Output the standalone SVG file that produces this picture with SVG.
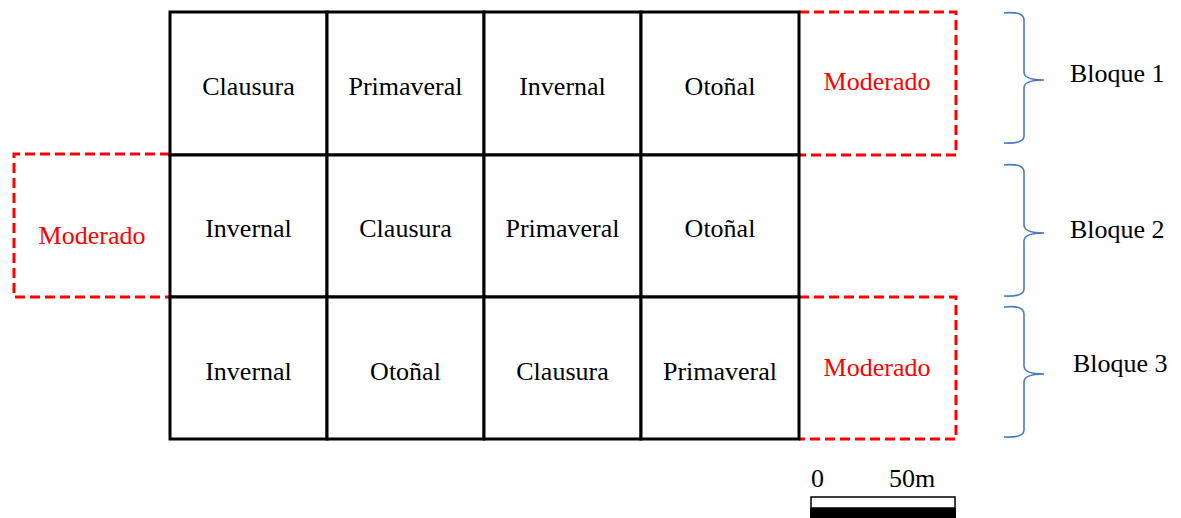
<svg xmlns="http://www.w3.org/2000/svg" width="1181" height="518" viewBox="0 0 1181 518">
<style>
.t{font-family:"Liberation Serif","Times New Roman",serif;font-size:26px;fill:#000;text-anchor:middle}
.r{font-family:"Liberation Serif","Times New Roman",serif;font-size:26px;fill:#ff0000;text-anchor:middle}
.b{font-family:"Liberation Serif","Times New Roman",serif;font-size:26px;fill:#000}
.cell{fill:#fff;stroke:#000;stroke-width:3}
.dash{fill:none;stroke:#ff0000;stroke-width:3;stroke-dasharray:10 5}
.brace{fill:none;stroke:#4a7cc4;stroke-width:1.6}
</style>
<rect width="1181" height="518" fill="#fff"/>
<g id="moderado-left"><path class="dash" d="M170,154 L14,154 L14,297 L170,297"/><text class="r" x="92" y="244">Moderado</text></g>
<g id="moderado-top"><path class="dash" d="M799,12 L956,12 L956,155 L799,155"/><text class="r" x="877" y="90">Moderado</text></g>
<g id="moderado-bottom"><path class="dash" d="M799,297 L956,297 L956,439 L799,439"/><text class="r" x="877" y="376">Moderado</text></g>
<g id="grid">
<g id="r1c1"><rect class="cell" x="170" y="12" width="157" height="143"/><text class="t" x="248.5" y="95">Clausura</text></g>
<g id="r1c2"><rect class="cell" x="327" y="12" width="157" height="143"/><text class="t" x="405.5" y="95">Primaveral</text></g>
<g id="r1c3"><rect class="cell" x="484" y="12" width="157" height="143"/><text class="t" x="562.5" y="95">Invernal</text></g>
<g id="r1c4"><rect class="cell" x="641" y="12" width="158" height="143"/><text class="t" x="720" y="95">Otoñal</text></g>
<g id="r2c1"><rect class="cell" x="170" y="155" width="157" height="142"/><text class="t" x="248.5" y="237">Invernal</text></g>
<g id="r2c2"><rect class="cell" x="327" y="155" width="157" height="142"/><text class="t" x="405.5" y="237">Clausura</text></g>
<g id="r2c3"><rect class="cell" x="484" y="155" width="157" height="142"/><text class="t" x="562.5" y="237">Primaveral</text></g>
<g id="r2c4"><rect class="cell" x="641" y="155" width="158" height="142"/><text class="t" x="720" y="237">Otoñal</text></g>
<g id="r3c1"><rect class="cell" x="170" y="297" width="157" height="142"/><text class="t" x="248.5" y="380">Invernal</text></g>
<g id="r3c2"><rect class="cell" x="327" y="297" width="157" height="142"/><text class="t" x="405.5" y="380">Otoñal</text></g>
<g id="r3c3"><rect class="cell" x="484" y="297" width="157" height="142"/><text class="t" x="562.5" y="380">Clausura</text></g>
<g id="r3c4"><rect class="cell" x="641" y="297" width="158" height="142"/><text class="t" x="720" y="380">Primaveral</text></g>
</g>
<g id="bloque1"><path class="brace" d="M1004,13 Q1024,11 1024,20 L1024,72 Q1024,80 1044,80 Q1024,80 1024,88 L1024,136 Q1024,144 1004,143"/><text class="b" x="1070" y="82">Bloque 1</text></g>
<g id="bloque2"><path class="brace" d="M1004,165 Q1024,163 1024,172 L1024,225 Q1024,233 1044,233 Q1024,233 1024,241 L1024,289 Q1024,297 1004,296"/><text class="b" x="1070" y="238">Bloque 2</text></g>
<g id="bloque3"><path class="brace" d="M1004,307 Q1024,305 1024,314 L1024,366 Q1024,374 1044,374 Q1024,374 1024,382 L1024,430 Q1024,438 1004,437"/><text class="b" x="1073" y="372">Bloque 3</text></g>
<g id="scale">
<text class="b" x="811" y="487">0</text>
<text class="b" x="889" y="487">50m</text>
<rect x="811" y="497" width="144" height="11" fill="#fff" stroke="#000" stroke-width="1.5"/>
<rect x="810" y="508" width="146" height="10" fill="#000"/>
</g>
</svg>
